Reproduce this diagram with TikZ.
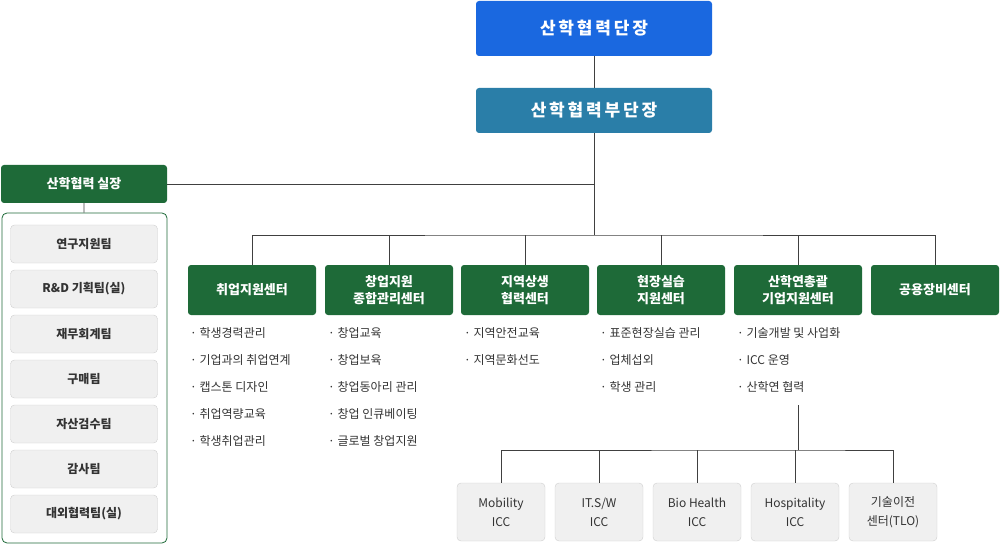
\documentclass[tikz,border=0pt]{standalone}
\usepackage{fontspec}
\setmainfont{Noto Sans CJK KR}
\definecolor{headblue}{HTML}{1A68E0}
\definecolor{subteal}{HTML}{2A7EA8}
\definecolor{teamgreen}{HTML}{1E6A38}
\definecolor{greyfill}{HTML}{F0F0F0}
\definecolor{greyline}{HTML}{CFCFCF}
\definecolor{bustext}{HTML}{333333}
\tikzset{
  head/.style={rectangle, rounded corners=3pt, minimum width=236pt, minimum height=55pt, text=white, font=\bfseries\fontsize{17}{20}\selectfont},
  center/.style={rectangle, rounded corners=3pt, fill=teamgreen, minimum width=128pt, minimum height=50pt, text=white, align=center, font=\bfseries\fontsize{13}{17}\selectfont},
  team/.style={rectangle, rounded corners=4pt, fill=greyfill, draw=greyline, minimum width=147pt, minimum height=38pt, font=\bfseries\fontsize{12}{14}\selectfont, text=bustext},
  icc/.style={rectangle, rounded corners=4pt, fill=greyfill, draw=greyline, minimum width=88pt, minimum height=58pt, align=center, font=\fontsize{12}{19}\selectfont, text=bustext},
  duty/.style={anchor=north west, align=left, font=\fontsize{12}{27}\selectfont, text=bustext, inner sep=0pt},
  conn/.style={draw=black!75, line width=0.8pt}
}
\begin{document}
\begin{tikzpicture}[x=1pt,y=-1pt]
\useasboundingbox (0,0) rectangle (1000,545);
% top of the tree
\node (dean) [head, fill=headblue, minimum height=55pt] at (594,28.5) {산\,학\,협\,력\,단\,장};
\node (vice) [head, fill=subteal, minimum height=45pt] at (594,110.5) {산\,학\,협\,력\,부\,단\,장};
\node (office) [center, minimum width=166pt, minimum height=38pt] at (84,184) {산학협력 실장};
\coordinate (bus) at (594,235);
\coordinate (join) at (594,184);
\draw [conn] (dean) -- (vice);
\draw [conn] (vice) -- (bus);
\draw [conn] (office) -- (join);
% office teams
\node (panel) [draw=teamgreen, rounded corners=5pt, line width=0.8pt, minimum width=165pt, minimum height=330pt] at (84.5,378) {};
\draw [conn] (office) -- (panel);
\foreach \t [count=\i] in {연구지원팀, R\&D 기획팀(실), 재무회계팀, 구매팀, 자산검수팀, 감사팀, 대외협력팀(실)}
  \node (team\i) [team] at (84,199+45*\i) {\t};
% centres
\node (c1) [center] at (252,290) {취업지원센터};
\node (c2) [center] at (389,290) {창업지원\\종합관리센터};
\node (c3) [center] at (525,290) {지역상생\\협력센터};
\node (c4) [center] at (661,290) {현장실습\\지원센터};
\node (c5) [center] at (798,290) {산학연총괄\\기업지원센터};
\node (c6) [center] at (935,290) {공용장비센터};
\draw [conn] (c1.north) |- (bus) -| (c6.north);
\foreach \c in {c2,c3,c4,c5}
  \draw [conn] (\c.north) -- ++(0,-30);
% duties
\node (d1) [duty] at (190,327) {· 학생경력관리\\· 기업과의 취업연계\\· 캡스톤 디자인\\· 취업역량교육\\· 학생취업관리};
\node (d2) [duty] at (328,327) {· 창업교육\\· 창업보육\\· 창업동아리 관리\\· 창업 인큐베이팅\\· 글로벌 창업지원};
\node (d3) [duty] at (464,327) {· 지역안전교육\\· 지역문화선도};
\node (d4) [duty] at (600,327) {· 표준현장실습 관리\\· 업체섭외\\· 학생 관리};
\node (d5) [duty] at (737,327) {· 기술개발 및 사업화\\· ICC 운영\\· 산학연 협력};
% ICC row
\coordinate (iccup) at (798,405);
\coordinate (iccbus) at (798,450);
\node (i1) [icc] at (501,512) {Mobility\\ICC};
\node (i2) [icc] at (599,512) {IT.S/W\\ICC};
\node (i3) [icc] at (697,512) {Bio Health\\ICC};
\node (i4) [icc] at (795,512) {Hospitality\\ICC};
\node (i5) [icc] at (893,512) {기술이전\\센터(TLO)};
\draw [conn] (iccup) -- (iccbus);
\draw [conn] (i1.north) |- (iccbus) -| (i5.north);
\foreach \i in {i2,i3,i4}
  \draw [conn] (\i.north) -- ++(0,-33);
\end{tikzpicture}
\end{document}
